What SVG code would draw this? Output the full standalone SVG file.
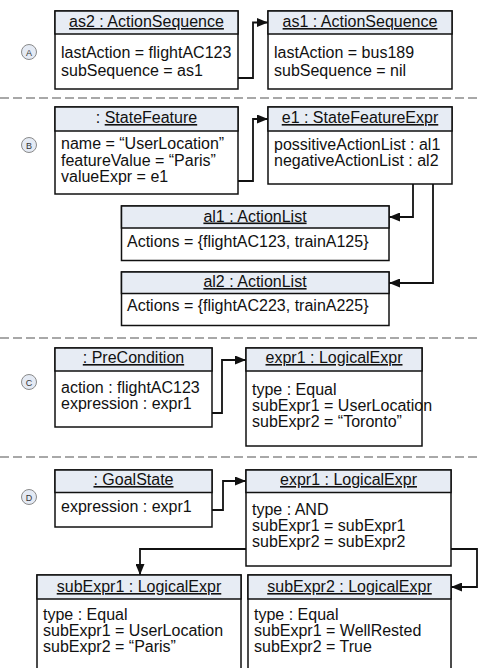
<svg xmlns="http://www.w3.org/2000/svg" width="479" height="668" viewBox="0 0 479 668">
<defs>
<style>
text{font-family:"Liberation Sans",Arial,sans-serif;font-size:16px;fill:#111}
.box{fill:#fff;stroke:#111;stroke-width:1.5}
.hdr{fill:#e7ecf4;stroke:#111;stroke-width:1.5}
.t{text-anchor:middle;text-decoration:underline}
.u{text-decoration:underline}
.sep{stroke:#8c8c8c;stroke-width:1.5;stroke-dasharray:9 4;fill:none}
.conn{fill:none;stroke:#111;stroke-width:1.8}
.sec circle{fill:#e4eaf4;stroke:#8a8a8a;stroke-width:1}
.sec text{font-size:9px;text-anchor:middle;fill:#333}
</style>
<marker id="arr" markerUnits="userSpaceOnUse" markerWidth="11" markerHeight="9" refX="11" refY="4.5" orient="auto">
<path d="M0,0 L11,4.5 L0,9 z" fill="#111"/>
</marker>
</defs>
<rect width="479" height="668" fill="#fff"/>

<g id="separators">
<line class="sep" x1="0" y1="98" x2="479" y2="98"/>
<line class="sep" x1="0" y1="338" x2="479" y2="338"/>
<line class="sep" x1="0" y1="457" x2="479" y2="457"/>
</g>

<g id="section-labels" class="sec">
<circle cx="29" cy="52" r="7.5"/><text x="29" y="55.5">A</text>
<circle cx="29" cy="145" r="7.5"/><text x="29" y="148.5">B</text>
<circle cx="29" cy="382" r="7.5"/><text x="29" y="385.5">C</text>
<circle cx="29" cy="497" r="7.5"/><text x="29" y="500.5">D</text>
</g>

<g id="connectors">
<path class="conn" d="M238,78 H253 V22.5 H268" marker-end="url(#arr)"/>
<path class="conn" d="M238,181 H253 V119 H268" marker-end="url(#arr)"/>
<path class="conn" d="M413,184 V217 H389" marker-end="url(#arr)"/>
<path class="conn" d="M433,184 V283 H389" marker-end="url(#arr)"/>
<path class="conn" d="M212,413 H222 V360 H246" marker-end="url(#arr)"/>
<path class="conn" d="M212,510 H223 V481 H246" marker-end="url(#arr)"/>
<path class="conn" d="M246,549 H140 V575" marker-end="url(#arr)"/>
<path class="conn" d="M451,549 H477 V587 H451" marker-end="url(#arr)"/>
</g>

<g id="as2">
<rect class="box" x="55" y="11" width="183" height="78"/>
<rect class="hdr" x="55" y="11" width="183" height="23"/>
<text class="t" x="146.5" y="27">as2 : ActionSequence</text>
<text x="61" y="58">lastAction = flightAC123</text>
<text x="61" y="76">subSequence = as1</text>
</g>

<g id="as1">
<rect class="box" x="268" y="11" width="184" height="78"/>
<rect class="hdr" x="268" y="11" width="184" height="23"/>
<text class="t" x="360" y="27">as1 : ActionSequence</text>
<text x="274" y="58">lastAction = bus189</text>
<text x="274" y="76">subSequence = nil</text>
</g>

<g id="statefeature">
<rect class="box" x="55" y="107" width="183" height="87"/>
<rect class="hdr" x="55" y="107" width="183" height="24"/>
<text x="146.5" y="123" text-anchor="middle">: <tspan class="u">StateFeature</tspan></text>
<text x="61" y="149">name = “UserLocation”</text>
<text x="61" y="166">featureValue = “Paris”</text>
<text x="61" y="182">valueExpr = e1</text>
</g>

<g id="e1">
<rect class="box" x="268" y="107" width="184" height="77"/>
<rect class="hdr" x="268" y="107" width="184" height="24"/>
<text class="t" x="360" y="123">e1 : StateFeatureExpr</text>
<text x="274" y="150">possitiveActionList : al1</text>
<text x="274" y="166">negativeActionList : al2</text>
</g>

<g id="al1">
<rect class="box" x="121.5" y="206" width="267.5" height="54.5"/>
<rect class="hdr" x="121.5" y="206" width="267.5" height="22"/>
<text class="t" x="255" y="221.5">al1 : ActionList</text>
<text x="127" y="246.5">Actions = {flightAC123, trainA125}</text>
</g>

<g id="al2">
<rect class="box" x="121.5" y="272" width="267.5" height="53.5"/>
<rect class="hdr" x="121.5" y="272" width="267.5" height="21.5"/>
<text class="t" x="255" y="287">al2 : ActionList</text>
<text x="127" y="311">Actions = {flightAC223, trainA225}</text>
</g>

<g id="precondition">
<rect class="box" x="55" y="348" width="157" height="79"/>
<rect class="hdr" x="55" y="348" width="157" height="23"/>
<text class="t" x="133.5" y="363">: PreCondition</text>
<text x="61" y="393">action : flightAC123</text>
<text x="61" y="409">expression : expr1</text>
</g>

<g id="expr1-c">
<rect class="box" x="246" y="348" width="176" height="98"/>
<rect class="hdr" x="246" y="348" width="176" height="23"/>
<text class="t" x="334" y="363">expr1 : LogicalExpr</text>
<text x="252" y="395">type : Equal</text>
<text x="252" y="411">subExpr1 = UserLocation</text>
<text x="252" y="427">subExpr2 = “Toronto”</text>
</g>

<g id="goalstate">
<rect class="box" x="55" y="470" width="157" height="57"/>
<rect class="hdr" x="55" y="470" width="157" height="22.5"/>
<text class="t" x="133.5" y="485">: GoalState</text>
<text x="61" y="512">expression : expr1</text>
</g>

<g id="expr1-d">
<rect class="box" x="246" y="470" width="205" height="96"/>
<rect class="hdr" x="246" y="470" width="205" height="22.5"/>
<text class="t" x="348.5" y="485">expr1 : LogicalExpr</text>
<text x="252" y="515">type : AND</text>
<text x="252" y="531">subExpr1 = subExpr1</text>
<text x="252" y="547">subExpr2 = subExpr2</text>
</g>

<g id="subexpr1">
<rect class="box" x="37" y="575" width="204" height="120"/>
<rect class="hdr" x="37" y="575" width="204" height="24"/>
<text class="t" x="139" y="592">subExpr1 : LogicalExpr</text>
<text x="43" y="620">type : Equal</text>
<text x="43" y="636">subExpr1 = UserLocation</text>
<text x="43" y="652">subExpr2 = “Paris”</text>
</g>

<g id="subexpr2">
<rect class="box" x="248" y="575" width="203" height="120"/>
<rect class="hdr" x="248" y="575" width="203" height="24"/>
<text class="t" x="349.5" y="592">subExpr2 : LogicalExpr</text>
<text x="254" y="620">type : Equal</text>
<text x="254" y="636">subExpr1 = WellRested</text>
<text x="254" y="652">subExpr2 = True</text>
</g>
</svg>
